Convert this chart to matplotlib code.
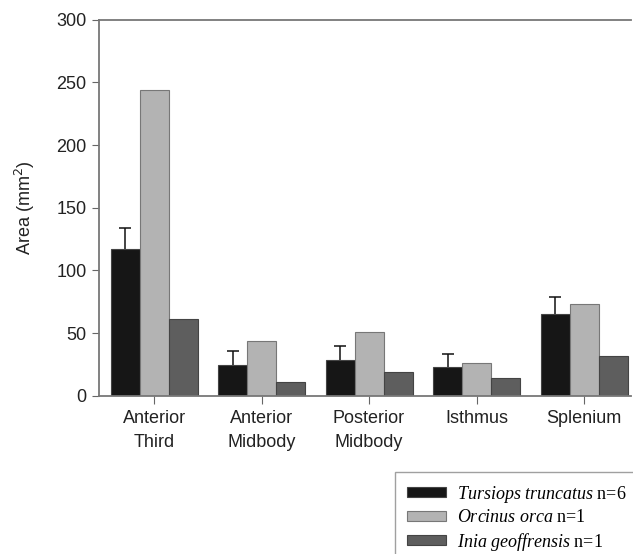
import matplotlib.pyplot as plt
import numpy as np

plt.rcParams['font.family'] = ['Liberation Sans', 'DejaVu Sans']
plt.rcParams['mathtext.fontset'] = 'custom'
plt.rcParams['mathtext.it'] = 'Liberation Serif:italic'
plt.rcParams['mathtext.rm'] = 'Liberation Serif'

regions = ['Anterior\nThird', 'Anterior\nMidbody', 'Posterior\nMidbody', 'Isthmus', 'Splenium']
tursiops = [117.5, 25, 29, 23.5, 65]
tursiops_err = [16, 11, 11, 10, 14]
orcinus = [244, 44, 51, 26.5, 73.5]
inia = [61, 11.5, 19, 14.5, 32]

labels = [r'$\it{Tursiops\ truncatus}$ n=6',
          r'$\it{Orcinus\ orca}$ n=1',
          r'$\it{Inia\ geoffrensis}$ n=1']
colors = ['#161616', '#b3b3b3', '#5e5e5e']

fig = plt.figure(figsize=(6.33, 5.54), dpi=100)
ax = fig.add_axes([0.1564, 0.2852, 0.8405, 0.6796])

x = np.arange(len(regions))
w = 0.27
edge = '#444444'
b1 = ax.bar(x - w, tursiops, w, color=colors[0], edgecolor=edge, linewidth=0.8,
            yerr=[np.zeros(len(tursiops)), tursiops_err], capsize=4.3,
            error_kw=dict(ecolor='#111111', elinewidth=1.1, capthick=1.1))
# hide the lower caps (they sit on the bar tops)
caps = b1.errorbar.lines[1]
caps[0].set_visible(False)
b2 = ax.bar(x, orcinus, w, color=colors[1], edgecolor='#777777', linewidth=0.8)
b3 = ax.bar(x + w, inia, w, color=colors[2], edgecolor=edge, linewidth=0.8)

ax.set_xlim(-0.512, 4.437)
ax.set_ylim(0, 300)
ax.set_yticks([0, 50, 100, 150, 200, 250, 300])
ax.set_xticks(x)
ax.set_xticklabels(regions, fontsize=13, color='#222222', linespacing=1.55)
ax.tick_params(axis='y', labelsize=13, labelcolor='#222222', color='#666666', length=5, pad=4)
ax.tick_params(axis='x', color='#666666', length=6, pad=4)
ax.set_ylabel('Area (mm$^2$)', fontsize=13, color='#222222', labelpad=14)
ax.yaxis.label.set_math_fontfamily('dejavusans')

for s in ['left', 'bottom', 'top']:
    ax.spines[s].set_color('#777777')
    ax.spines[s].set_linewidth(1.3)
ax.spines['right'].set_visible(False)

leg = fig.legend([b1, b2, b3], labels, loc='upper left',
                 bbox_to_anchor=(395 / 633, 1 - 472 / 554),
                 frameon=True, fancybox=False, edgecolor='#888888',
                 fontsize=13, handlelength=2.2, handleheight=0.45,
                 labelspacing=0.25, borderpad=0.65, handletextpad=0.6,
                 borderaxespad=0)
leg.get_frame().set_linewidth(1.0)
for t in leg.get_texts():
    t.set_family('Liberation Serif')

fig.savefig('out.png', dpi=100)
